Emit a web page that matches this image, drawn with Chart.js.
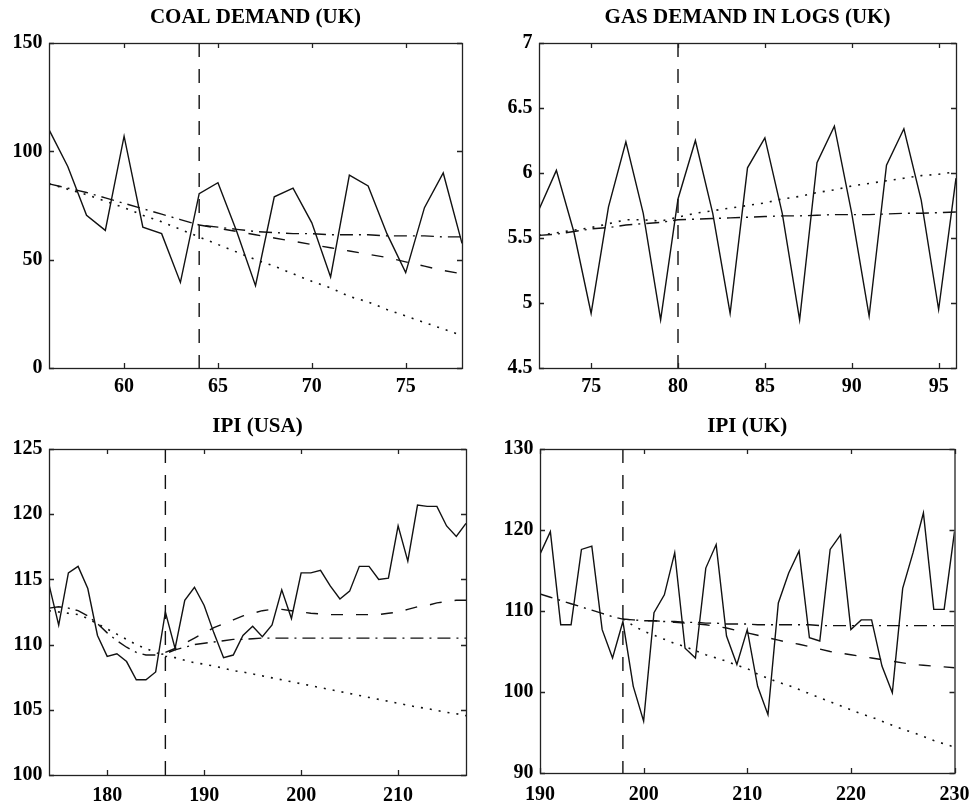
<!DOCTYPE html>
<html>
<head>
<meta charset="utf-8">
<title>Demand and IPI forecasts</title>
<script src="https://cdn.jsdelivr.net/npm/chart.js@4/dist/chart.umd.min.js"></script>
<style>
  html, body { margin: 0; padding: 0; background: #fff; }
  body { width: 979px; height: 810px; position: relative; overflow: hidden; }
  canvas { position: absolute; }
</style>
</head>
<body>
<canvas id="coal" width="490" height="410" style="left:0px;top:0px"></canvas>
<canvas id="gas" width="489" height="410" style="left:490px;top:0px"></canvas>
<canvas id="ipiUsa" width="490" height="404" style="left:0px;top:406px"></canvas>
<canvas id="ipiUk" width="489" height="404" style="left:490px;top:406px"></canvas>
<script>
// ---- Coal demand (UK) ----
const coalYears = [56, 57, 58, 59, 60, 61, 62, 63, 64, 65, 66, 67, 68, 69, 70, 71, 72, 73, 74, 75, 76, 77, 78];
const coalObserved = [110, 93, 70.5, 63.5, 107, 65, 62, 39.5, 80.5, 85.5, 63, 38, 79, 83, 67, 42, 89, 84, 62, 44, 74, 90, 57.5];
const coalDotted = [85, 82.5, 80, 77, 74, 70.5, 67.5, 64, 60.5, 57, 53.5, 50, 47, 43.5, 40, 37, 33, 30.5, 27, 24, 21, 18, 15];
const coalDashed = [null, null, null, null, null, null, null, null, 66, 64.5, 63, 61.5, 60, 58.5, 57, 55.5, 54, 52.5, 51, 49, 47, 45, 43.5];
const coalDashDot = [85, 83, 81, 78.5, 76, 73.5, 71, 68.5, 66, 65, 64, 63, 62.5, 62, 62, 61.5, 61.5, 61.5, 61, 61, 61, 60.5, 60.5];
const coalForecastOrigin = 64;
const coalXTicks = [60, 65, 70, 75];
const coalYTicks = [0, 50, 100, 150];

// ---- Gas demand in logs (UK) ----
const gasYears = [72, 73, 74, 75, 76, 77, 78, 79, 80, 81, 82, 83, 84, 85, 86, 87, 88, 89, 90, 91, 92, 93, 94, 95, 96];
const gasObserved = [5.72, 6.02, 5.55, 4.92, 5.74, 6.24, 5.69, 4.87, 5.80, 6.25, 5.69, 4.92, 6.04, 6.27, 5.69, 4.87, 6.08, 6.36, 5.69, 4.90, 6.06, 6.34, 5.79, 4.95, 5.96];
const gasDotted = [5.52, 5.54, 5.56, 5.58, 5.61, 5.64, 5.64, 5.63, 5.66, 5.69, 5.71, 5.73, 5.75, 5.77, 5.80, 5.82, 5.85, 5.87, 5.90, 5.92, 5.94, 5.96, 5.98, 5.99, 6.01];
const gasDashDot = [5.52, 5.53, 5.55, 5.57, 5.58, 5.60, 5.61, 5.62, 5.64, 5.645, 5.65, 5.655, 5.66, 5.665, 5.67, 5.67, 5.675, 5.68, 5.68, 5.68, 5.685, 5.69, 5.69, 5.695, 5.70];
const gasForecastOrigin = 80;
const gasXTicks = [75, 80, 85, 90, 95];
const gasYTicks = [4.5, 5, 5.5, 6, 6.5, 7];

// ---- IPI (USA) ----
const usaPeriods = [174, 175, 176, 177, 178, 179, 180, 181, 182, 183, 184, 185,
  186, 187, 188, 189, 190, 191, 192, 193, 194, 195, 196, 197,
  198, 199, 200, 201, 202, 203, 204, 205, 206, 207, 208, 209,
  210, 211, 212, 213, 214, 215, 216, 217];
const usaObserved = [114.6, 111.5, 115.5, 116.0, 114.3, 110.7, 109.1, 109.3, 108.7, 107.3, 107.3, 107.9,
  112.5, 109.7, 113.4, 114.4, 113.0, 110.9, 109.0, 109.2, 110.7, 111.4, 110.6, 111.5,
  114.2, 112.0, 115.5, 115.5, 115.7, 114.5, 113.5, 114.1, 116.0, 116.0, 115.0, 115.1,
  119.1, 116.4, 120.7, 120.6, 120.6, 119.1, 118.3, 119.3];
const usaDotted = [112.6, 112.5, 112.4, 112.3, 112.0, 111.6, 111.2, 110.8, 110.4, 110.0, 109.7, 109.4,
  109.1, 109.0, 108.8, 108.6, 108.5, 108.35, 108.2, 108.0, 107.9, 107.75, 107.6, 107.45,
  107.3, 107.15, 107.0, 106.85, 106.7, 106.55, 106.4, 106.25, 106.1, 105.95, 105.8, 105.65,
  105.5, 105.35, 105.2, 105.1, 104.95, 104.8, 104.7, 104.55];
const usaDashed = [null, null, null, null, null, null, null, null, null, null, null, null,
  109.4, 109.7, 110.1, 110.5, 110.9, 111.3, 111.6, 111.9, 112.2, 112.4, 112.6, 112.7,
  112.7, 112.6, 112.5, 112.4, 112.35, 112.3, 112.3, 112.3, 112.3, 112.3, 112.3, 112.4,
  112.5, 112.7, 112.9, 113.0, 113.2, 113.3, 113.4, 113.4];
const usaDashDot = [112.8, 112.9, 112.8, 112.6, 112.2, 111.6, 110.9, 110.3, 109.8, 109.4, 109.2, 109.2,
  109.3, 109.6, 109.8, 110.0, 110.1, 110.2, 110.3, 110.4, 110.4, 110.45, 110.5, 110.5,
  110.5, 110.5, 110.5, 110.5, 110.5, 110.5, 110.5, 110.5, 110.5, 110.5, 110.5, 110.5,
  110.5, 110.5, 110.5, 110.5, 110.5, 110.5, 110.5, 110.5];
const usaForecastOrigin = 186;
const usaXTicks = [180, 190, 200, 210];
const usaYTicks = [100, 105, 110, 115, 120, 125];

// ---- IPI (UK) ----
const ukPeriods = [190, 191, 192, 193, 194, 195, 196, 197, 198, 199,
  200, 201, 202, 203, 204, 205, 206, 207, 208, 209,
  210, 211, 212, 213, 214, 215, 216, 217, 218, 219,
  220, 221, 222, 223, 224, 225, 226, 227, 228, 229, 230];
const ukObserved = [117.0, 119.8, 108.3, 108.3, 117.6, 118.0, 107.7, 104.2, 108.7, 100.7,
  96.4, 109.8, 112.0, 117.2, 105.4, 104.2, 115.3, 118.2, 106.9, 103.4,
  107.7, 100.7, 97.2, 111.0, 114.7, 117.4, 106.7, 106.3, 117.6, 119.4,
  107.7, 108.9, 108.9, 103.2, 99.9, 112.8, 117.2, 122.1, 110.2, 110.2, 119.8];
const ukDotted = [null, null, null, null, null, null, null, null, 109.0, 108.2,
  107.5, 107.0, 106.5, 106.0, 105.6, 105.1, 104.6, 104.2, 103.8, 103.3,
  102.9, 102.2, 101.7, 101.2, 100.8, 100.3, 99.8, 99.3, 98.8, 98.3,
  97.8, 97.3, 96.9, 96.4, 95.9, 95.4, 95.0, 94.5, 94.0, 93.6, 93.2];
const ukDashed = [null, null, null, null, null, null, null, null, 109.0, 108.9,
  108.8, 108.8, 108.7, 108.6, 108.5, 108.4, 108.3, 108.1, 107.9, 107.6,
  107.3, 107.0, 106.7, 106.4, 106.1, 105.9, 105.6, 105.3, 105.0, 104.8,
  104.6, 104.4, 104.2, 104.0, 103.8, 103.6, 103.4, 103.3, 103.2, 103.1, 103.0];
const ukDashDot = [112.1, 111.7, 111.3, 110.9, 110.5, 110.1, 109.7, 109.3, 109.0, 108.9,
  108.8, 108.8, 108.7, 108.7, 108.6, 108.6, 108.5, 108.5, 108.4, 108.4,
  108.4, 108.3, 108.3, 108.3, 108.3, 108.3, 108.3, 108.2, 108.2, 108.2,
  108.2, 108.2, 108.2, 108.2, 108.2, 108.2, 108.2, 108.2, 108.2, 108.2, 108.2];
const ukForecastOrigin = 198;
const ukXTicks = [190, 200, 210, 220, 230];
const ukYTicks = [90, 100, 110, 120, 130];

// ---- drawing ----
Chart.defaults.font.family = "'Liberation Serif', 'Times New Roman', serif";
Chart.defaults.color = '#000';

const INK = '#111';

// Box frame plus inward tick marks on all four sides.
const frameTicks = {
  id: 'frameTicks',
  afterDraw(chart) {
    const { ctx, chartArea: a, scales: { x, y } } = chart;
    const len = 5;
    ctx.save();
    ctx.strokeStyle = '#222';
    ctx.lineWidth = 1.3;
    ctx.setLineDash([]);
    ctx.beginPath();
    x.ticks.forEach(t => {
      const p = Math.round(x.getPixelForValue(t.value)) + 0.5;
      ctx.moveTo(p, a.bottom); ctx.lineTo(p, a.bottom - len);
      ctx.moveTo(p, a.top); ctx.lineTo(p, a.top + len);
    });
    y.ticks.forEach(t => {
      const p = Math.round(y.getPixelForValue(t.value)) + 0.5;
      ctx.moveTo(a.left, p); ctx.lineTo(a.left + len, p);
      ctx.moveTo(a.right, p); ctx.lineTo(a.right - len, p);
    });
    ctx.stroke();
    ctx.strokeRect(a.left + 0.5, a.top + 0.5, a.right - a.left, a.bottom - a.top);
    ctx.restore();
  }
};

function points(xs, ys) {
  return xs.map((x, i) => ({ x: x, y: ys[i] }));
}

function lineSet(data, dash, width) {
  return {
    data: data,
    borderColor: INK,
    borderWidth: width,
    borderDash: dash,
    pointRadius: 0,
    fill: false,
    tension: 0,
    spanGaps: false
  };
}

function makePanel(p) {
  const yTop = p.yTicks[p.yTicks.length - 1];
  const yBottom = p.yTicks[0];
  const sets = [];
  sets.push(lineSet(points(p.xs, p.observed), [], 1.4));
  if (p.dotted) sets.push(lineSet(points(p.xs, p.dotted), [2, 7], 1.6));
  if (p.dashed) sets.push(lineSet(points(p.xs, p.dashed), [12, 13], 1.4));
  if (p.dashDot) sets.push(lineSet(points(p.xs, p.dashDot), [13, 6, 2, 6], 1.4));
  // forecast origin marker, drawn from the top of the frame downwards
  sets.push(lineSet([{ x: p.origin, y: yTop }, { x: p.origin, y: yBottom }], [14, 12], 1.4));

  const tickFont = { size: 20, weight: 'bold' };
  new Chart(document.getElementById(p.id), {
    type: 'line',
    data: { datasets: sets },
    options: {
      responsive: false,
      animation: false,
      events: [],
      layout: { padding: { top: 0, left: 0, right: p.padRight, bottom: 0 } },
      plugins: {
        legend: { display: false },
        tooltip: { enabled: false },
        title: {
          display: true,
          text: p.title,
          fullSize: false,
          color: '#000',
          font: { size: 21, weight: 'bold' },
          padding: p.titlePad
        }
      },
      scales: {
        x: {
          type: 'linear',
          min: p.xs[0],
          max: p.xs[p.xs.length - 1],
          grid: { display: false, drawTicks: false },
          border: { display: false },
          ticks: { font: tickFont, padding: p.xLabelPad, maxRotation: 0, color: '#000',
                   callback: v => String(v) },
          afterBuildTicks: s => { s.ticks = p.xTicks.map(v => ({ value: v })); },
          afterFit: s => { s.height = p.xAxisHeight; }
        },
        y: {
          type: 'linear',
          min: yBottom,
          max: yTop,
          grid: { display: false, drawTicks: false },
          border: { display: false },
          ticks: { font: tickFont, padding: 6.5, color: '#000',
                   callback: v => String(v) },
          afterBuildTicks: s => { s.ticks = p.yTicks.map(v => ({ value: v })); },
          afterFit: s => { s.width = p.yAxisWidth; }
        }
      }
    },
    plugins: [frameTicks]
  });
}

makePanel({
  id: 'coal', title: 'COAL DEMAND (UK)',
  xs: coalYears, observed: coalObserved, dotted: coalDotted, dashed: coalDashed, dashDot: coalDashDot,
  origin: coalForecastOrigin, xTicks: coalXTicks, yTicks: coalYTicks,
  yAxisWidth: 49, xAxisHeight: 42, xLabelPad: 7, padRight: 28, titlePad: { top: 5.4, bottom: 12.4 }
});
makePanel({
  id: 'gas', title: 'GAS DEMAND IN LOGS (UK)',
  xs: gasYears, observed: gasObserved, dotted: gasDotted, dashed: null, dashDot: gasDashDot,
  origin: gasForecastOrigin, xTicks: gasXTicks, yTicks: gasYTicks,
  yAxisWidth: 49, xAxisHeight: 42, xLabelPad: 7, padRight: 23, titlePad: { top: 5.4, bottom: 12.4 }
});
makePanel({
  id: 'ipiUsa', title: 'IPI (USA)',
  xs: usaPeriods, observed: usaObserved, dotted: usaDotted, dashed: usaDashed, dashDot: usaDashDot,
  origin: usaForecastOrigin, xTicks: usaXTicks, yTicks: usaYTicks,
  yAxisWidth: 49, xAxisHeight: 35, xLabelPad: 8.5, padRight: 24, titlePad: { top: 8.1, bottom: 9.7 }
});
makePanel({
  id: 'ipiUk', title: 'IPI (UK)',
  xs: ukPeriods, observed: ukObserved, dotted: ukDotted, dashed: ukDashed, dashDot: ukDashDot,
  origin: ukForecastOrigin, xTicks: ukXTicks, yTicks: ukYTicks,
  yAxisWidth: 50, xAxisHeight: 37, xLabelPad: 9.5, padRight: 23, titlePad: { top: 8.1, bottom: 9.7 }
});
</script>
</body>
</html>
